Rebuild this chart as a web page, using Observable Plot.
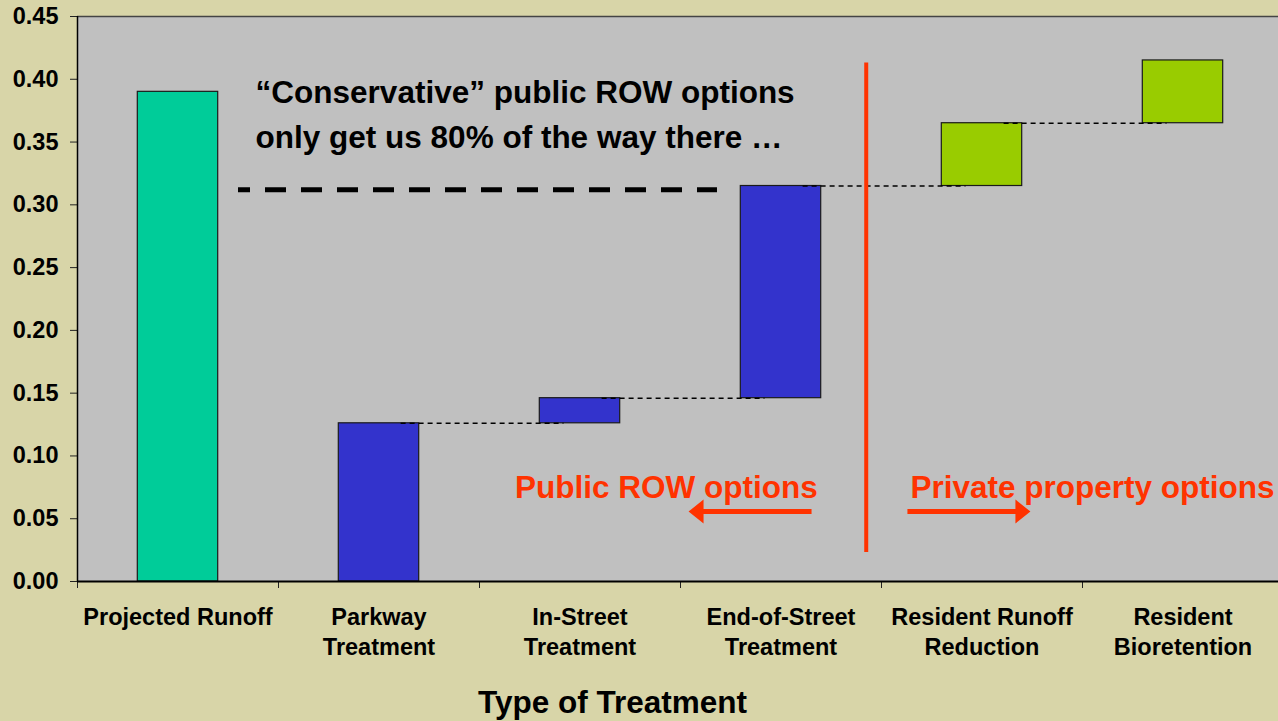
<!DOCTYPE html>
<html>
<head>
<meta charset="utf-8">
<script src="https://cdn.jsdelivr.net/npm/d3@7"></script>
<script src="https://cdn.jsdelivr.net/npm/@observablehq/plot@0.6"></script>
<style>
  html, body { margin: 0; padding: 0; background: #D8D5A8; }
  #chart svg { display: block; }
</style>
</head>
<body>
<div id="chart"></div>
<script>
// ---- data ----
const categories = ["Projected Runoff", "Parkway\nTreatment", "In-Street\nTreatment", "End-of-Street\nTreatment", "Resident Runoff\nReduction", "Resident\nBioretention"];
const barStart = [0, 0, 0.126, 0.146, 0.315, 0.365];
const barEnd   = [0.39, 0.126, 0.146, 0.315, 0.365, 0.415];
const barGroup = ["total", "public", "public", "public", "private", "private"];
const yTicks = [0, 0.05, 0.10, 0.15, 0.20, 0.25, 0.30, 0.35, 0.40, 0.45];

// annotations
const noteText = "“Conservative” public ROW options\nonly get us 80% of the way there …";
const noteLevel = 0.312;          // dashed "80%" level
const sectionLabels = ["Public ROW options", "Private property options"];
const arrowDirs = [-90, 90];

// ---- styles ----
const colors = {total: "#00CC99", public: "#3333CC", private: "#99CC00"};
const red = "#FF3300";
const font = "'Liberation Sans', Arial, sans-serif";

const bars = categories.map((c, i) => ({i, c, y1: barStart[i], y2: barEnd[i], g: barGroup[i]}));
const connectors = bars.slice(1, -1).map(d => ({x1: d.i + 0.11, x2: d.i + 0.92, y: d.y2}));
const boundaries = d3.range(categories.length + 1).map(k => k - 0.5);

const arrowShape = {
  draw(ctx, l) {
    const h = 15, w = 12, s = 2.5;
    ctx.moveTo(-s, 0);
    ctx.lineTo(-s, -(l - h));
    ctx.lineTo(-w, -(l - h));
    ctx.lineTo(0, -l);
    ctx.lineTo(w, -(l - h));
    ctx.lineTo(s, -(l - h));
    ctx.lineTo(s, 0);
    ctx.closePath();
  }
};

const chart = Plot.plot({
  width: 1278,
  height: 721,
  marginLeft: 77,
  marginRight: -5,
  marginTop: 16,
  marginBottom: 140,
  style: {background: "#D8D5A8", fontFamily: font, fontWeight: "bold", color: "black", overflow: "hidden"},
  x: {domain: [-0.5, categories.length - 0.5], axis: null},
  y: {domain: [0, 0.45], axis: null},
  marks: [
    Plot.frame({fill: "#C0C0C0", stroke: null}),
    Plot.ruleY([0.45], {stroke: "#444", strokeWidth: 1.5}),
    // y axis
    Plot.axisY(yTicks, {tickSize: 7, tickPadding: 12, tickFormat: d3.format(".2f"), fontSize: 23.5, fontWeight: "bold", stroke: "#222"}),
    // x axis boundary ticks
    Plot.axisX(boundaries, {tickSize: 7, tickFormat: () => "", stroke: "#222"}),
    // category labels
    Plot.text(categories, {x: (d, i) => i, frameAnchor: "bottom", lineAnchor: "top", dy: 22, lineHeight: 1.28, fontSize: 23.5, fontWeight: "bold", fill: "black"}),
    // axis title
    Plot.text(["Type of Treatment"], {x: 2.162, frameAnchor: "bottom", lineAnchor: "bottom", dy: 131, fontSize: 31.5, fontWeight: "bold", fill: "black"}),
    // bars
    Plot.rectY(bars, {x1: d => d.i - 0.2, x2: d => d.i + 0.2, y1: "y1", y2: "y2", fill: d => colors[d.g], stroke: "#1a1a1a", strokeWidth: 1.2}),
    // axis lines
    Plot.ruleX([-0.5], {stroke: "black", strokeWidth: 1.5}),
    Plot.ruleY([0], {stroke: "black", strokeWidth: 2}),
    // connectors
    Plot.ruleY(connectors, {x1: "x1", x2: "x2", y: "y", stroke: "black", strokeWidth: 1.5, strokeDasharray: "5,4"}),
    // 80% dashed level
    Plot.ruleY([noteLevel], {x1: 0.301, x2: 2.684, stroke: "black", strokeWidth: 5, strokeDasharray: "21,15", strokeDashoffset: 9}),
    // annotation text
    Plot.text([noteText], {x: 0.386, y: 0.3449, textAnchor: "start", lineAnchor: "bottom", lineHeight: 1.43, fontSize: 31.5, fontWeight: "bold", fill: "black"}),
    // divider
    Plot.ruleX([3.424], {y1: 0.023, y2: 0.413, stroke: red, strokeWidth: 4}),
    // section labels
    Plot.text(sectionLabels, {x: [1.677, 3.644], y: 0.0669, textAnchor: "start", lineAnchor: "bottom", fontSize: 31.5, fontWeight: "bold", fill: red}),
    // arrows
    Plot.vector(arrowDirs, {x: [3.152, 3.629], y: 0.0557, length: 123, rotate: d => d, anchor: "start", shape: arrowShape, fill: red, stroke: "none"})
  ]
});
document.getElementById("chart").appendChild(chart);
</script>
</body>
</html>
